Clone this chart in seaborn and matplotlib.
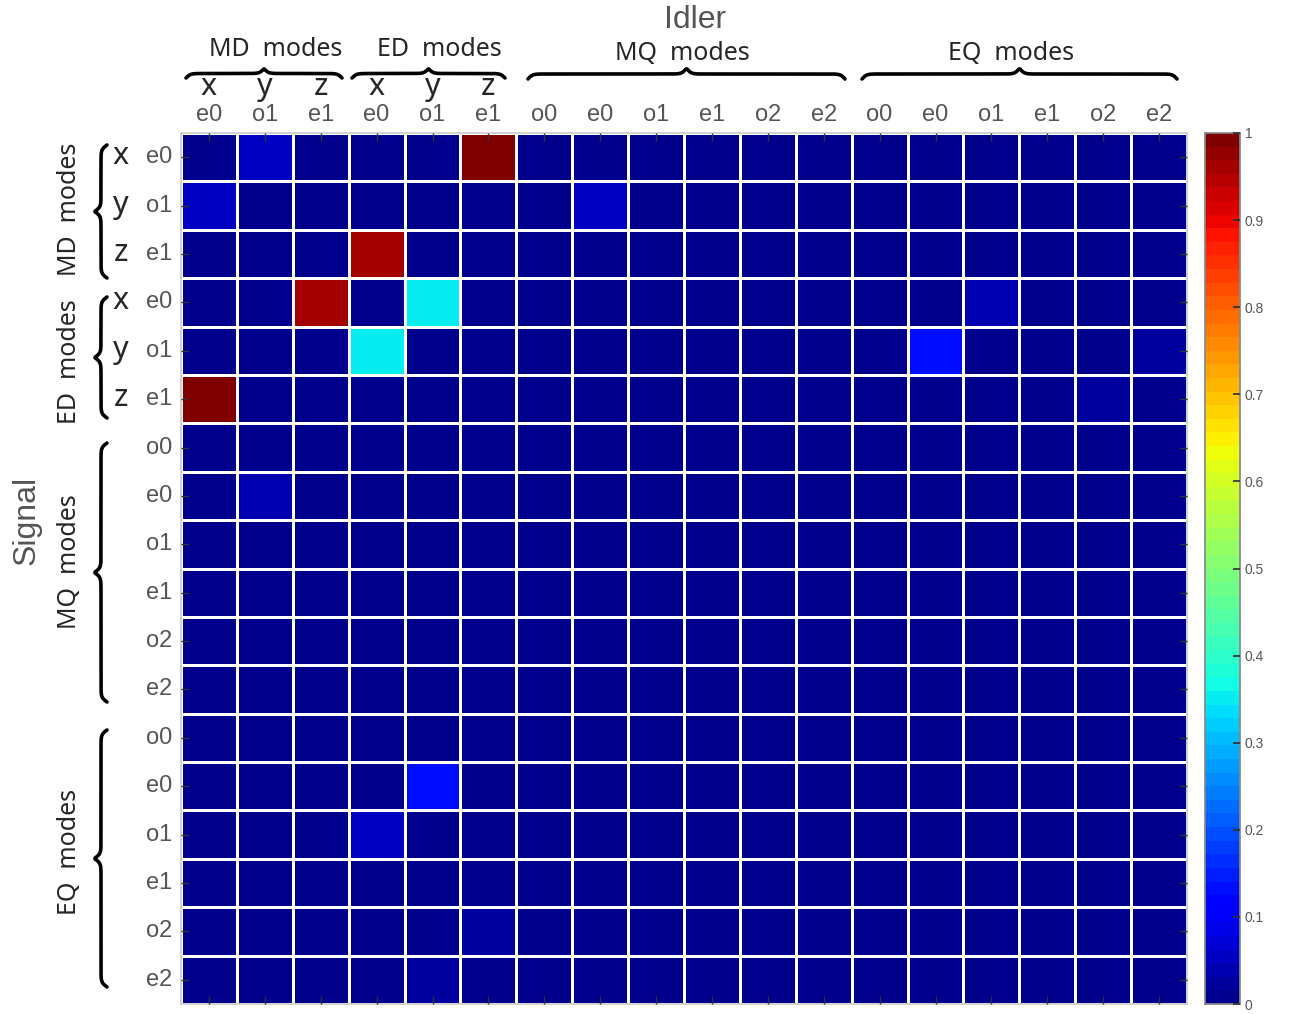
import numpy as np
import pandas as pd
import matplotlib
matplotlib.use("Agg")
import matplotlib.pyplot as plt
from matplotlib.colors import ListedColormap
from matplotlib.lines import Line2D
import seaborn as sns

sns.set_theme(style="white")
plt.rcParams['font.family'] = ['Liberation Sans', 'DejaVu Sans']

# column / row labels (idler = columns, signal = rows)
mode_labels = ["e0", "o1", "e1", "e0", "o1", "e1",
               "o0", "e0", "o1", "e1", "o2", "e2",
               "o0", "e0", "o1", "e1", "o2", "e2"]
dipole_xyz = ["x", "y", "z", "x", "y", "z"]
groups = ["MD  modes", "ED  modes", "MQ  modes", "EQ  modes"]

# normalised coupling values
row_md_x = [0.014, 0.05, 0.014, 0.014, 0.014, 1.0, 0.014, 0.014, 0.014, 0.014, 0.014, 0.014, 0.014, 0.014, 0.014, 0.014, 0.014, 0.014]
row_md_y = [0.05, 0.014, 0.014, 0.014, 0.014, 0.014, 0.014, 0.05, 0.014, 0.014, 0.014, 0.014, 0.014, 0.014, 0.014, 0.014, 0.014, 0.014]
row_md_z = [0.014, 0.014, 0.014, 0.96, 0.014, 0.014, 0.014, 0.014, 0.014, 0.014, 0.014, 0.014, 0.014, 0.014, 0.014, 0.014, 0.014, 0.014]
row_ed_x = [0.014, 0.014, 0.96, 0.014, 0.35, 0.014, 0.014, 0.014, 0.014, 0.014, 0.014, 0.014, 0.014, 0.014, 0.045, 0.014, 0.014, 0.014]
row_ed_y = [0.014, 0.014, 0.014, 0.35, 0.014, 0.014, 0.014, 0.014, 0.014, 0.014, 0.014, 0.014, 0.014, 0.14, 0.014, 0.014, 0.014, 0.025]
row_ed_z = [1.0, 0.014, 0.014, 0.014, 0.014, 0.014, 0.014, 0.014, 0.014, 0.014, 0.014, 0.014, 0.014, 0.014, 0.014, 0.014, 0.025, 0.014]
row_mq_o0 = [0.014] * 18
row_mq_e0 = [0.014, 0.035, 0.014, 0.014, 0.014, 0.014, 0.014, 0.014, 0.014, 0.014, 0.014, 0.014, 0.014, 0.014, 0.014, 0.014, 0.014, 0.014]
row_mq_o1 = [0.014] * 18
row_mq_e1 = [0.014] * 18
row_mq_o2 = [0.014] * 18
row_mq_e2 = [0.014] * 18
row_eq_o0 = [0.014] * 18
row_eq_e0 = [0.014, 0.014, 0.014, 0.014, 0.14, 0.014, 0.014, 0.014, 0.014, 0.014, 0.014, 0.014, 0.014, 0.014, 0.014, 0.014, 0.014, 0.014]
row_eq_o1 = [0.014, 0.014, 0.014, 0.05, 0.014, 0.014, 0.014, 0.014, 0.014, 0.014, 0.014, 0.014, 0.014, 0.014, 0.014, 0.014, 0.014, 0.014]
row_eq_e1 = [0.014] * 18
row_eq_o2 = [0.014, 0.014, 0.014, 0.014, 0.014, 0.025, 0.014, 0.014, 0.014, 0.014, 0.014, 0.014, 0.014, 0.014, 0.014, 0.014, 0.014, 0.014]
row_eq_e2 = [0.014, 0.014, 0.014, 0.014, 0.025, 0.014, 0.014, 0.014, 0.014, 0.014, 0.014, 0.014, 0.014, 0.014, 0.014, 0.014, 0.014, 0.014]

rows = [row_md_x, row_md_y, row_md_z, row_ed_x, row_ed_y, row_ed_z,
        row_mq_o0, row_mq_e0, row_mq_o1, row_mq_e1, row_mq_o2, row_mq_e2,
        row_eq_o0, row_eq_e0, row_eq_o1, row_eq_e1, row_eq_o2, row_eq_e2]

df = pd.DataFrame(rows)

W, H = 1294, 1014
def fx(x):
    return x / W
def fy(y):
    return 1 - y / H

# matlab-like jet(64)
cmap = ListedColormap(plt.get_cmap('jet')(np.linspace(0.0137, 1, 64)))

fig = plt.figure(figsize=(W / 100, H / 100), dpi=100)
ax = fig.add_axes([fx(181), fy(1004), (1187 - 181) / W, (1004 - 133) / H])
cax = fig.add_axes([fx(1205), fy(1004), 35 / W, (1004 - 133) / H])

sns.heatmap(df, ax=ax, cbar_ax=cax, cmap=cmap, vmin=0, vmax=1,
            linewidths=1.0, linecolor='white')

ax.set_axisbelow(False)
ax.xaxis.tick_top()
ax.set_xticklabels(mode_labels, rotation=0)
ax.set_yticklabels(mode_labels, rotation=0)
ax.tick_params(axis='both', direction='in', length=6, width=1, color='#333333',
               top=True, bottom=True, left=True, right=True,
               labeltop=True, labelbottom=False, labelleft=True, labelright=False,
               labelsize=17, labelcolor='#555555')
ax.tick_params(axis='x', pad=5)
ax.tick_params(axis='y', pad=6)
for s in ax.spines.values():
    s.set_visible(True)
    s.set_color('#cccccc')

cax.set_axisbelow(False)
cax.set_yticks(np.round(np.arange(0, 1.01, 0.1), 1))
cax.set_yticklabels(["0", "0.1", "0.2", "0.3", "0.4", "0.5", "0.6", "0.7", "0.8", "0.9", "1"])
cax.tick_params(direction='in', length=5, color='#333333', labelsize=10,
                labelcolor='#555555', right=True)
for s in cax.spines.values():
    s.set_visible(True)
    s.set_color('#888888')

# axis titles
fig.text(fx(695), fy(20), "Idler", ha='center', va='center', fontsize=23, color='#555555')
fig.text(fx(27), fy(520), "Signal", ha='center', va='center', fontsize=23,
         color='#555555', rotation=90)

# group labels
gfam = ['Noto Sans', 'DejaVu Sans']
top_group_x = [276, 439, 682, 1011]
top_group_y = [50, 50, 54, 54]
for g, x, y in zip(groups, top_group_x, top_group_y):
    fig.text(fx(x), fy(y), g, ha='center', va='center', fontsize=18, family=gfam)
left_group_y = [209, 362, 562, 852]
for g, y in zip(groups, left_group_y):
    fig.text(fx(70), fy(y), g, ha='center', va='center', fontsize=18,
             family=gfam, rotation=90)

# x / y / z letters for dipole modes
cell_w = (1187 - 181) / 18
cell_h = (1004 - 133) / 18
for i, c in enumerate(dipole_xyz):
    fig.text(fx(181 + cell_w * (i + 0.5)), fy(87), c, ha='center', va='center',
             fontsize=22, family=gfam)
    fig.text(fx(121), fy(133 + cell_h * (i + 0.5) - 1), c, ha='center', va='center',
             fontsize=22, family=gfam)


def brace(p0, p1, base, h, vertical=False):
    L = abs(p1 - p0)
    beta = L * 0.45
    t = np.linspace(0, 0.5, 150)
    half = 1 / (1 + np.exp(-beta * (t - t[0]))) + 1 / (1 + np.exp(-beta * (t - t[-1])))
    prof = np.concatenate([half, half[::-1]]) - 0.5
    pos = np.linspace(p0, p1, prof.size)
    off = base - h * prof
    if vertical:
        xs, ys = fx(off), fy(pos)
    else:
        xs, ys = fx(pos), fy(off)
    fig.add_artist(Line2D(xs, ys, transform=fig.transFigure, color='black',
                          lw=2.6, solid_capstyle='round'))


brace(186, 342, 78, 9)
brace(352, 505, 78, 9)
brace(528, 845, 79, 10)
brace(862, 1177, 79, 10)
brace(145, 278, 107, 12, vertical=True)
brace(297, 418, 107, 12, vertical=True)
brace(443, 702, 107, 12, vertical=True)
brace(730, 987, 107, 12, vertical=True)

fig.savefig("out.png", dpi=100)
